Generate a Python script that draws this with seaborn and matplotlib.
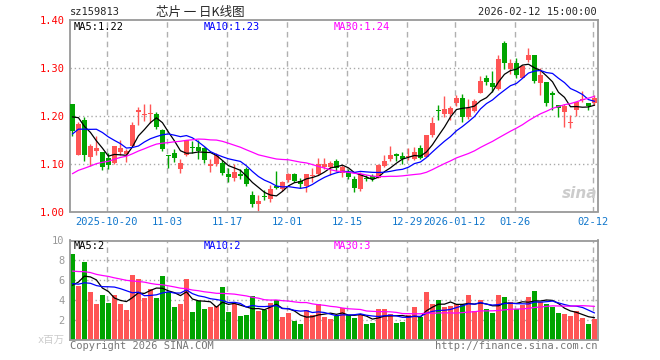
import matplotlib
matplotlib.use("Agg")
import matplotlib.pyplot as plt
import seaborn as sns
import numpy as np
import pandas as pd

#%% data: sz159813 daily candles 2025-10-10 .. 2026-02-12
open_ = [1.225, 1.119, 1.191, 1.114, 1.126, 1.124, 1.112, 1.102, 1.124, 1.120,
         1.137, 1.208, 1.201, 1.203, 1.203, 1.170, 1.116, 1.122, 1.088, 1.118,
         1.135, 1.134, 1.132, 1.095, 1.100, 1.102, 1.078, 1.071, 1.078, 1.088,
         1.034, 1.015, 1.033, 1.027, 1.054, 1.046, 1.065, 1.078, 1.063, 1.053,
         1.074, 1.079, 1.092, 1.092, 1.105, 1.081, 1.083, 1.068, 1.048, 1.069,
         1.074, 1.070, 1.096, 1.109, 1.120, 1.116, 1.113, 1.109, 1.133, 1.114,
         1.160, 1.212, 1.203, 1.203, 1.226, 1.238, 1.197, 1.210, 1.248, 1.278,
         1.269, 1.255, 1.351, 1.297, 1.311, 1.279, 1.316, 1.327, 1.269, 1.270,
         1.248, 1.222, 1.208, 1.184, 1.213, 1.233, 1.226, 1.226]
high = [1.225, 1.187, 1.198, 1.140, 1.157, 1.124, 1.123, 1.137, 1.149, 1.130,
        1.187, 1.219, 1.225, 1.224, 1.207, 1.173, 1.117, 1.130, 1.109, 1.150,
        1.147, 1.149, 1.134, 1.109, 1.122, 1.107, 1.090, 1.099, 1.088, 1.093,
        1.043, 1.035, 1.045, 1.055, 1.084, 1.064, 1.081, 1.081, 1.070, 1.079,
        1.090, 1.111, 1.111, 1.105, 1.109, 1.097, 1.088, 1.074, 1.083, 1.076,
        1.079, 1.099, 1.118, 1.137, 1.123, 1.125, 1.132, 1.135, 1.139, 1.160,
        1.198, 1.222, 1.241, 1.220, 1.243, 1.245, 1.235, 1.234, 1.282, 1.285,
        1.294, 1.327, 1.357, 1.318, 1.320, 1.307, 1.341, 1.327, 1.299, 1.271,
        1.252, 1.222, 1.224, 1.201, 1.229, 1.252, 1.227, 1.243]
low = [1.157, 1.118, 1.105, 1.095, 1.119, 1.086, 1.089, 1.100, 1.119, 1.104,
       1.135, 1.180, 1.189, 1.184, 1.173, 1.127, 1.090, 1.104, 1.081, 1.116,
       1.123, 1.109, 1.102, 1.082, 1.095, 1.077, 1.062, 1.064, 1.067, 1.053,
       1.010, 1.000, 1.025, 1.020, 1.047, 1.043, 1.062, 1.062, 1.050, 1.041,
       1.062, 1.076, 1.088, 1.076, 1.085, 1.072, 1.067, 1.041, 1.043, 1.064,
       1.063, 1.069, 1.093, 1.105, 1.105, 1.100, 1.107, 1.107, 1.109, 1.113,
       1.156, 1.192, 1.198, 1.192, 1.220, 1.187, 1.194, 1.208, 1.247, 1.264,
       1.250, 1.254, 1.298, 1.287, 1.278, 1.278, 1.313, 1.269, 1.243, 1.220,
       1.212, 1.198, 1.177, 1.174, 1.199, 1.228, 1.212, 1.222]
close = [1.168, 1.182, 1.119, 1.137, 1.132, 1.092, 1.098, 1.137, 1.133, 1.127,
         1.180, 1.213, 1.203, 1.205, 1.177, 1.130, 1.115, 1.111, 1.102, 1.150,
         1.133, 1.126, 1.107, 1.100, 1.119, 1.081, 1.072, 1.083, 1.075, 1.058,
         1.015, 1.021, 1.031, 1.047, 1.049, 1.062, 1.079, 1.064, 1.058, 1.078,
         1.076, 1.100, 1.100, 1.101, 1.090, 1.093, 1.072, 1.049, 1.079, 1.067,
         1.067, 1.097, 1.106, 1.119, 1.116, 1.109, 1.116, 1.125, 1.112, 1.160,
         1.185, 1.210, 1.215, 1.217, 1.238, 1.198, 1.217, 1.231, 1.272, 1.271,
         1.261, 1.318, 1.311, 1.311, 1.285, 1.304, 1.327, 1.273, 1.285, 1.227,
         1.243, 1.217, 1.220, 1.187, 1.229, 1.236, 1.220, 1.238]
# x百万
volume = [8.6, 5.4, 7.8, 4.8, 3.6, 4.5, 3.7, 4.5, 3.6, 3.0,
          6.5, 6.1, 4.2, 5.1, 4.2, 6.4, 4.8, 3.3, 3.6, 6.1,
          2.8, 3.9, 3.1, 3.3, 3.4, 5.3, 2.8, 3.6, 2.4, 2.5,
          4.4, 2.9, 3.0, 3.7, 4.0, 2.3, 2.7, 1.9, 1.6, 3.0,
          2.5, 3.6, 2.3, 2.1, 2.4, 3.2, 2.5, 2.2, 2.5, 1.6,
          1.7, 3.1, 3.1, 2.6, 1.7, 1.8, 2.5, 3.3, 2.3, 4.8,
          3.6, 4.0, 3.3, 3.4, 3.6, 3.6, 4.5, 2.9, 4.0, 3.1,
          2.7, 4.5, 4.3, 3.8, 3.1, 3.5, 4.3, 4.9, 3.8, 3.6,
          3.3, 2.7, 2.6, 2.4, 2.9, 2.2, 1.6, 2.1]

# 29 sessions before the first candle (not shown), estimated from where the MA lines start
prev_close = [0.97, 0.99, 1.00, 0.98, 1.01, 1.03, 1.01, 1.02, 1.05, 1.03,
              1.04, 1.06, 1.05, 1.04, 1.07, 1.08, 1.06, 1.07, 1.09, 1.10,
              1.08, 1.12, 1.14, 1.13, 1.16, 1.19, 1.21, 1.20, 1.22]
prev_volume = [6.8, 8.2, 7.4, 9.1, 7.9, 6.5, 8.8, 7.2, 6.9, 8.4,
               7.7, 6.2, 8.9, 7.1, 7.6, 8.0, 6.6, 7.3, 7.8, 6.7,
               6.0, 6.4, 5.3, 5.9, 5.6, 3.8, 4.8, 5.2, 5.1]

tick_dates = ["2025-10-20", "2025-11-03", "2025-11-17", "2025-12-01", "2025-12-15",
              "2025-12-29", "2026-01-12", "2026-01-26", "2026-02-12"]
tick_labels = ["2025-10-20", "11-03", "11-17", "12-01", "12-15",
               "12-29", "2026-01-12", "01-26", "02-12"]

#%%
dates = pd.bdate_range("2025-10-10", "2026-02-12")
dates = dates[~dates.isin(pd.to_datetime(["2026-01-01", "2026-01-02"]))]

df = pd.DataFrame({"date": dates, "open": open_, "high": high, "low": low,
                   "close": close, "volume": volume})
df["idx"] = np.arange(len(df))
n_prev = len(prev_close)
c_all = pd.Series(prev_close + close)
v_all = pd.Series(prev_volume + volume)
for n in (5, 10, 30):
    df[f"ma{n}"] = c_all.rolling(n).mean().iloc[n_prev:].values
    df[f"vma{n}"] = v_all.rolling(n).mean().iloc[n_prev:].values

RED, GREEN = "#ff5555", "#00a400"
up = df["close"] >= df["open"]
colors = np.where(up, RED, GREEN)
tick_pos = [dates.get_loc(pd.Timestamp(d)) - 0.25 for d in tick_dates]

sns.set_style("white")
plt.rcParams["font.family"] = ["DejaVu Sans Mono", "Noto Sans CJK SC"]

W, H = 660, 360
fig = plt.figure(figsize=(6.6, 3.6), dpi=100)
ax = fig.add_axes([70 / W, (H - 211.5) / H, 527.5 / W, 191.5 / H])
axv = fig.add_axes([70 / W, (H - 340) / H, 527.5 / W, 99.5 / H])

for a in (ax, axv):
    a.set_xlim(-0.4, len(df) - 0.5)
    for s in a.spines.values():
        s.set_color("#999999")
        s.set_linewidth(1.3)
    for t in tick_pos:
        a.axvline(t, color="#b0b0b0", lw=1, ls=(0, (4, 3)), zorder=0)
    a.tick_params(length=0)

# price panel
ax.set_ylim(1.0, 1.4)
for y in (1.1, 1.2, 1.3):
    ax.axhline(y, color="#aaaaaa", lw=1, ls=(0, (1, 2)), zorder=0)
ax.vlines(df["idx"], df["low"], df["high"], color=colors, lw=1, zorder=2)
body = np.maximum((df["close"] - df["open"]).abs(), 0.0022)
ax.bar(df["idx"], body, bottom=np.minimum(df["open"], df["close"]),
       width=0.75, color=colors, linewidth=0, zorder=3)
sns.lineplot(data=df, x="idx", y="ma5", color="black", lw=0.9, ax=ax, zorder=4)
sns.lineplot(data=df, x="idx", y="ma10", color="#0000ff", lw=0.9, ax=ax, zorder=4)
sns.lineplot(data=df, x="idx", y="ma30", color="#ff00ff", lw=0.9, ax=ax, zorder=4)
ax.set_yticks([1.0, 1.1, 1.2, 1.3, 1.4])
ax.set_yticklabels([f"{v:.2f}" for v in [1.0, 1.1, 1.2, 1.3, 1.4]], color="#ff0000", fontsize=7.5)
ax.set_xticks(tick_pos)
ax.set_xticklabels(tick_labels, color="#1177cc", fontsize=7.5)
ax.tick_params(axis="y", pad=4)
ax.tick_params(axis="x", pad=4)
ax.set_xlabel("")
ax.set_ylabel("")

# volume panel
axv.set_ylim(0, 10)
for y in (2, 4, 6, 8):
    axv.axhline(y, color="#aaaaaa", lw=1, ls=(0, (1, 2)), zorder=0)
axv.bar(df["idx"], df["volume"], width=0.75, color=colors, linewidth=0, zorder=2)
sns.lineplot(data=df, x="idx", y="vma5", color="black", lw=0.9, ax=axv, zorder=4)
sns.lineplot(data=df, x="idx", y="vma10", color="#0000ff", lw=0.9, ax=axv, zorder=4)
sns.lineplot(data=df, x="idx", y="vma30", color="#ff00ff", lw=0.9, ax=axv, zorder=4)
axv.set_yticks([2, 4, 6, 8, 10])
axv.set_yticklabels(["2", "4", "6", "8", "10"], color="#999999", fontsize=7.5)
axv.set_xticks(tick_pos)
axv.set_xticklabels([])
axv.tick_params(axis="y", pad=4)
axv.set_xlabel("")
axv.set_ylabel("")

def px(x, y):
    return x / W, 1 - y / H

fs = 7.5
fig.text(*px(70, 12), "sz159813", fontsize=fs, va="center", ha="left")
fig.text(*px(200, 12), "芯片 一 日K线图", fontsize=9, va="center", ha="center",
         family=["Noto Sans CJK SC", "DejaVu Sans"])
fig.text(*px(597, 12), "2026-02-12 15:00:00", fontsize=fs, va="center", ha="right")
fig.text(*px(74, 27), "MA5:1.22", fontsize=fs, va="center", color="black")
fig.text(*px(204, 27), "MA10:1.23", fontsize=fs, va="center", color="#0000ff")
fig.text(*px(334, 27), "MA30:1.24", fontsize=fs, va="center", color="#ff00ff")
fig.text(*px(74, 246), "MA5:2", fontsize=fs, va="center", color="black")
fig.text(*px(204, 246), "MA10:2", fontsize=fs, va="center", color="#0000ff")
fig.text(*px(334, 246), "MA30:3", fontsize=fs, va="center", color="#ff00ff")
fig.text(*px(65, 340), "x百万", fontsize=fs, va="center", ha="right", color="#cccccc")
fig.text(*px(70, 346), "Copyright 2026 SINA.COM", fontsize=fs, va="center", ha="left", color="#777777")
fig.text(*px(597, 346), "http://finance.sina.com.cn", fontsize=fs, va="center", ha="right", color="#777777")
fig.text(*px(597, 194), "sina", fontsize=11, va="center", ha="right", color="#cccccc",
         style="italic", weight="bold", family="DejaVu Sans")

fig.savefig("out.png", dpi=100, facecolor="white")
